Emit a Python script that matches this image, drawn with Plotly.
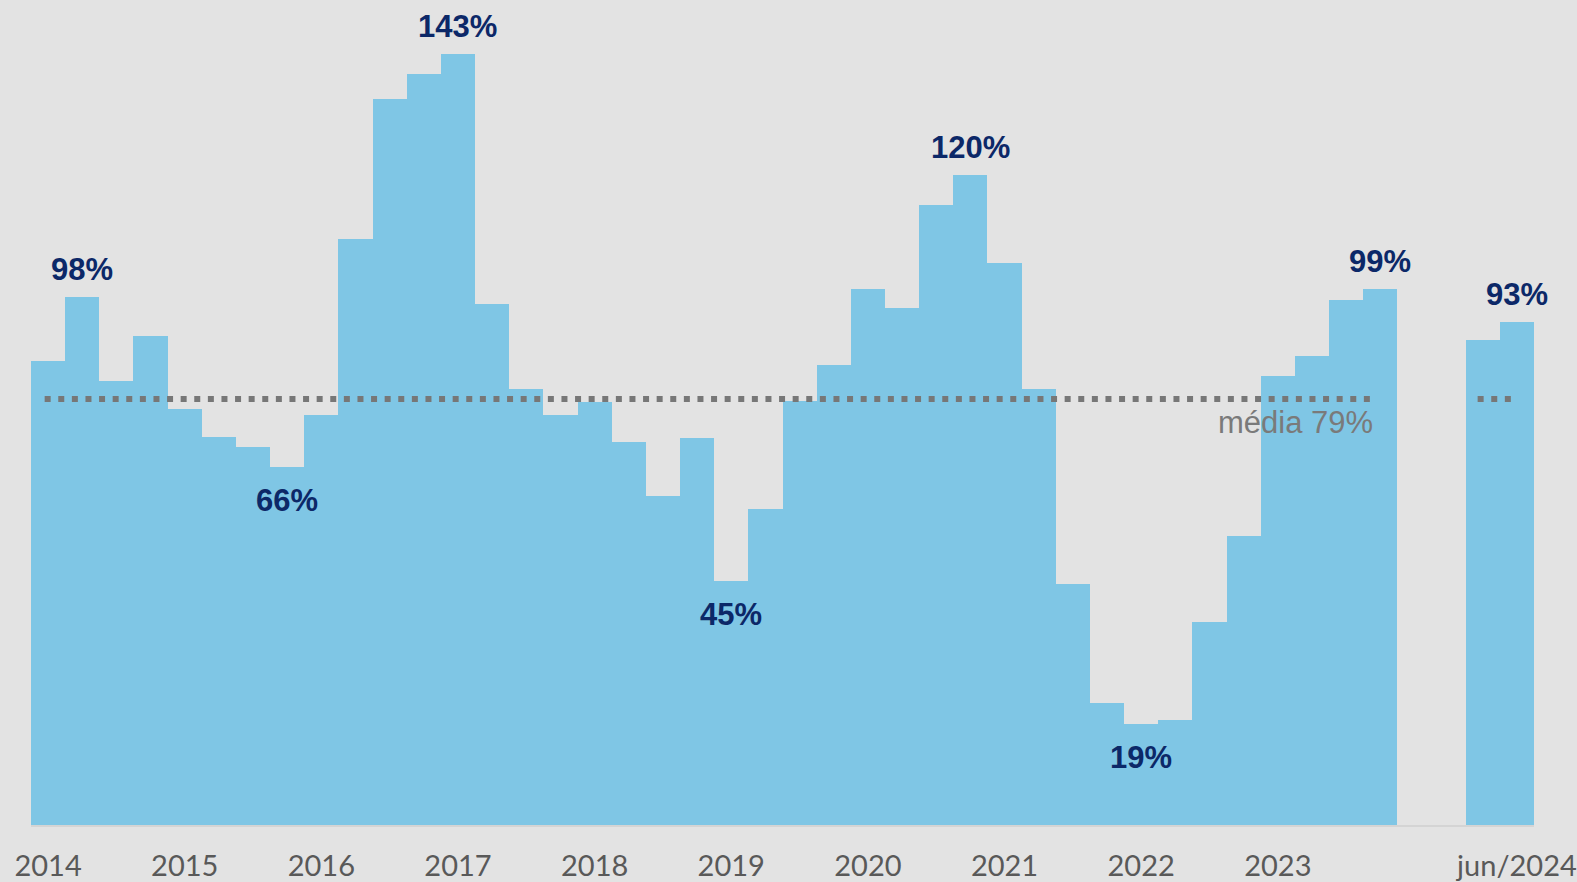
import plotly.graph_objects as go

# Quarterly values (%), 2014Q1 .. 2023Q4, then two gap slots, then 2024 Q1-Q2
values = [86.1, 97.9, 82.3, 90.7,
          77.2, 72.0, 70.1, 66.4,
          76.0, 108.7, 134.6, 139.3,
          143.0, 96.6, 80.9, 76.0,
          78.4, 71.0, 61.0, 71.8,
          45.3, 58.6, 78.6, 85.3,
          99.4, 95.9, 115.0, 120.5,
          104.2, 80.9, 44.7, 22.6,
          18.8, 19.5, 37.6, 53.6,
          83.3, 87.0, 97.4, 99.4,
          None, None,
          90.0, 93.3]
positions = list(range(len(values)))

tick_positions = [0, 4, 8, 12, 16, 20, 24, 28, 32, 36, 43]
tick_labels = ["2014", "2015", "2016", "2017", "2018", "2019", "2020",
               "2021", "2022", "2023", "jun/2024"]

label_positions = [1, 7, 12, 20, 27, 32, 39, 43]
label_texts = ["98%", "66%", "143%", "45%", "120%", "19%", "99%", "93%"]
label_above = [True, False, True, False, True, False, True, True]

average = 79
average_text = "média 79%"

BAR = "#7fc6e5"
NAVY = "#0c2868"
BG = "#e3e3e3"

fig = go.Figure()
fig.add_trace(go.Bar(x=positions, y=values, width=1.0,
                     marker=dict(color=BAR, line=dict(width=0)),
                     hoverinfo="skip"))

# average dotted line (two segments)
fig.add_trace(go.Scatter(x=[-0.1, 38.7], y=[average, average], mode="lines",
                         line=dict(color="#777777", width=6, dash="6px,7.6px"),
                         hoverinfo="skip"))
fig.add_trace(go.Scatter(x=[41.85, 42.95], y=[average, average], mode="lines",
                         line=dict(color="#777777", width=6, dash="6px,7.6px"),
                         hoverinfo="skip"))

for p, t, above in zip(label_positions, label_texts, label_above):
    v = values[p]
    fig.add_annotation(x=p, y=v, text="<b>%s</b>" % t, showarrow=False,
                       yanchor="bottom" if above else "top",
                       yshift=8 if above else -14,
                       font=dict(family="Liberation Sans, Arial", size=31, color=NAVY))

fig.add_annotation(x=38.85, y=average, text=average_text, showarrow=False,
                   xanchor="right", yanchor="top", yshift=-4,
                   font=dict(family="Liberation Sans, Arial", size=31, color="#7a7a7a"))

fig.update_layout(
    width=1577, height=882,
    margin=dict(l=31, r=43, t=16, b=57, autoexpand=False),
    paper_bgcolor=BG, plot_bgcolor=BG,
    showlegend=False, bargap=0,
    xaxis=dict(range=[-0.5, 43.5], tickvals=tick_positions, ticktext=tick_labels,
               showgrid=False, zeroline=False, showline=True, linecolor="#d4d4d4",
               linewidth=2, ticks="", ticklabelstandoff=14, automargin=False,
               tickfont=dict(family="Lato, Open Sans", size=29, color="#595959")),
    yaxis=dict(range=[0, 150], visible=False, showgrid=False, zeroline=False,
               automargin=False),
)

fig.write_html("out.html", post_script="document.body.style.margin='0';",
               config={"displayModeBar": False})
